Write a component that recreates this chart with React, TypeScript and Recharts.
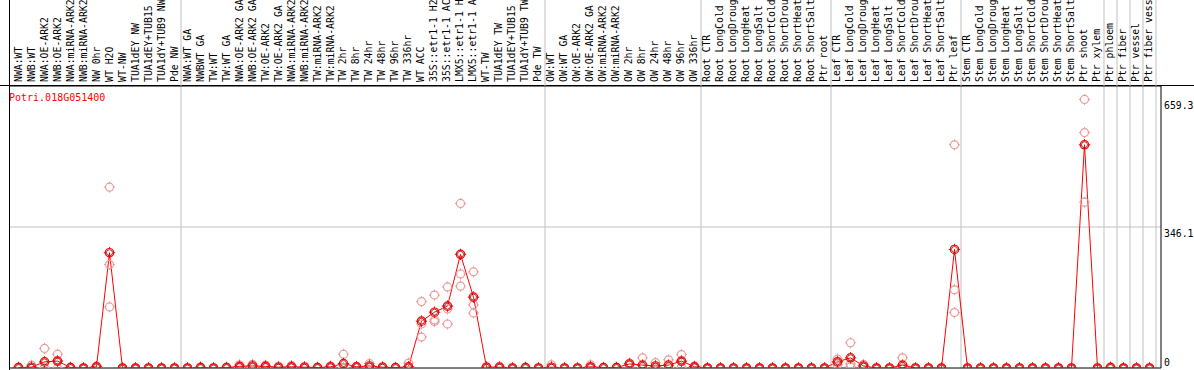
import React from 'react';
import { ComposedChart, Line, XAxis, YAxis, ReferenceLine } from 'recharts';

const geneId = 'Potri.018G051400';

const categories = [
  'NWA:WT', 'NWB:WT', 'NWA:OE-ARK2', 'NWB:OE-ARK2', 'NWA:miRNA-ARK2', 'NWB:miRNA-ARK2', 'NW 0hr', 'WT H2O', 'WT-NW',
  'TUA1dEY NW', 'TUA1dEY+TUB15', 'TUA1dY+TUB9 NW', 'Pde NW',
  'NWA:WT GA', 'NWBWT GA', 'TW:WT', 'TW:WT GA', 'NWA:OE-ARK2 GA', 'NWB:OE-ARK2 GA', 'TW:OE-ARK2', 'TW:OE-ARK2 GA',
  'NWA:miRNA-ARK2', 'NWB:miRNA-ARK2', 'TW:miRNA-ARK2', 'TW:miRNA-ARK2', 'TW 2hr', 'TW 8hr', 'TW 24hr', 'TW 48hr',
  'TW 96hr', 'TW 336hr', 'WT ACC', '35S::etr1-1 H2', '35S::etr1-1 AC', 'LMX5::etr1-1 H', 'LMX5::etr1-1 A', 'WT-TW',
  'TUA1dEY TW', 'TUA1dEY+TUB15', 'TUA1dY+TUB9 TW', 'Pde TW',
  'OW:WT', 'OW:WT GA', 'OW:OE-ARK2', 'OW:OE-ARK2 GA', 'OW:miRNA-ARK2', 'OW:miRNA-ARK2', 'OW 2hr', 'OW 8hr', 'OW 24hr',
  'OW 48hr', 'OW 96hr', 'OW 336hr',
  'Root CTR', 'Root LongCold', 'Root LongDroug', 'Root LongHeat', 'Root LongSalt', 'Root ShortCold', 'Root ShortDrou',
  'Root ShortHeat', 'Root ShortSalt', 'Ptr root',
  'Leaf CTR', 'Leaf LongCold', 'Leaf LongDroug', 'Leaf LongHeat', 'Leaf LongSalt', 'Leaf ShortCold', 'Leaf ShortDrou',
  'Leaf ShortHeat', 'Leaf ShortSalt', 'Ptr leaf',
  'Stem CTR', 'Stem LongCold', 'Stem LongDroug', 'Stem LongHeat', 'Stem LongSalt', 'Stem ShortCold', 'Stem ShortDrou',
  'Stem ShortHeat', 'Stem ShortSalt', 'Ptr shoot', 'Ptr xylem',
  'Ptr phloem', 'Ptr fiber', 'Ptr vessel', 'Ptr fiber vess',
];

// last index of each sample group (a grey separator follows it)
const groupEnds = [12, 40, 52, 62, 72, 83, 84, 85, 86, 87];

const meanValues = [
  1, 2, 15, 17, 1, 0, 3, 283, 0, 0, 0, 0, 0,
  0, 1, 0, 1, 4, 5, 4, 2, 3, 2, 1, 3, 11, 3, 5, 2, 1, 3, 115, 137, 152, 279, 174, 2, 2, 0, 1, 0,
  2, 0, 0, 3, 1, 1, 10, 7, 5, 7, 17, 3,
  0, 0, 0, 0, 0, 0, 0, 0, 0, 0,
  15, 25, 5, 0, 0, 7, 0, 0, 0, 291,
  0, 0, 0, 0, 0, 0, 0, 0, 0, 548, 0,
  1, 0, 0, 0,
];

const rep1 = [
  0, 7, 48, 34, 0, 0, 5, 444, 0, 0, 0, 0, 0,
  0, 3, 0, 2, 8, 9, 7, 4, 6, 4, 2, 5, 34, 4, 11, 3, 1, 12, 163, 179, 199, 404, 236, 3, 4, 0, 2, 0,
  8, 0, 0, 8, 1, 2, 12, 25, 13, 20, 33, 5,
  0, 0, 0, 0, 0, 0, 0, 0, 0, 0,
  22, 62, 9, 0, 0, 25, 0, 0, 0, 548,
  0, 0, 0, 0, 0, 0, 0, 0, 0, 659.3, 0,
  3, 0, 0, 0,
];

const rep2 = [
  1, 0, 0, 17, 2, 0, 3, 254, 0, 0, 0, 0, 0,
  0, 0, 0, 1, 3, 5, 4, 1, 2, 1, 1, 3, 1, 3, 3, 2, 1, 0, 108, 118, 145, 231, 155, 2, 1, 0, 1, 0,
  0, 0, 0, 1, 1, 1, 10, 0, 2, 1, 16, 3,
  0, 0, 0, 0, 0, 0, 0, 0, 0, 0,
  15, 10, 4, 0, 0, 0, 0, 0, 0, 192,
  0, 0, 0, 0, 0, 0, 0, 0, 0, 578, 0,
  0, 0, 0, 0,
];

const rep3 = [
  2, 0, 0, 0, 1, 0, 1, 150, 0, 0, 0, 0, 0,
  0, 0, 0, 0, 1, 1, 1, 1, 1, 1, 0, 1, 0, 2, 1, 1, 1, 0, 76, 114, 108, 201, 135, 1, 1, 0, 0, 0,
  0, 0, 0, 0, 1, 0, 8, 0, 0, 0, 2, 1,
  0, 0, 0, 0, 0, 0, 0, 0, 0, 0,
  8, 3, 2, 0, 0, 0, 0, 0, 0, 136,
  0, 0, 0, 0, 0, 0, 0, 0, 0, 407, 0,
  0, 0, 0, 0,
];

const yTicks = [0, 346.1, 659.3];

const data = categories.map((name, i) => ({
  i,
  name,
  mean: meanValues[i],
  r1: rep1[i],
  r2: rep2[i],
  r3: rep3[i],
}));

const WIDTH = 1194;
const HEIGHT = 370;
const LEFT = 10;
const HEADER = 86;
const FONT = '"DejaVu Sans Mono", "Liberation Mono", monospace';

const HeaderTick = (props: any) => {
  const { x, payload } = props;
  const i = payload.value as number;
  return (
    <g>
      {i === 0 && (
        <g>
          <line x1={0} x2={WIDTH} y1={HEADER - 0.5} y2={HEADER - 0.5} stroke="#000" />
          <line x1={LEFT - 0.5} x2={LEFT - 0.5} y1={0} y2={HEIGHT} stroke="#000" />
          <text x={9} y={101} fontSize={10} fontFamily={FONT} fill="#ff0000">
            {geneId}
          </text>
        </g>
      )}
      <text
        transform={`translate(${x + 3},82) rotate(-90)`}
        fontSize={9.8}
        fontFamily={FONT}
        fill="#000"
      >
        {categories[i]}
      </text>
      {groupEnds.includes(i) && (
        <line x1={x + 6.5} x2={x + 6.5} y1={0} y2={HEADER} stroke="#c0c0c0" />
      )}
    </g>
  );
};

const RightTick = (props: any) => {
  const { x, y, payload } = props;
  const dy = payload.value === 0 ? -6 : 6;
  return (
    <text x={x} y={y + dy} fontSize={9.8} fontFamily={FONT} fill="#000" dominantBaseline="central">
      {payload.value}
    </text>
  );
};

const ring = (cx: number, cy: number, color: string, r: number) => (
  <g>
    <circle cx={cx} cy={cy} r={r} fill="none" stroke={color} strokeWidth={1.2} />
    <line x1={cx} x2={cx} y1={cy - r - 1.5} y2={cy - r + 0.5} stroke={color} />
    <line x1={cx} x2={cx} y1={cy + r - 0.5} y2={cy + r + 1.5} stroke={color} />
    <line x1={cx - r - 1.5} x2={cx - r + 0.5} y1={cy} y2={cy} stroke={color} />
    <line x1={cx + r - 0.5} x2={cx + r + 1.5} y1={cy} y2={cy} stroke={color} />
  </g>
);

const repDot = (p: any) => {
  if (p.cx == null || p.cy == null) return <g key={p.index} />;
  return <g key={p.index}>{ring(p.cx, p.cy, '#ee9a9a', 4)}</g>;
};

const meanDot = (p: any) => {
  if (p.cx == null || p.cy == null) return <g key={p.index} />;
  return (
    <g key={p.index}>
      {ring(p.cx, p.cy, '#ff0000', 4.2)}
      <circle cx={p.cx} cy={p.cy} r={3} fill="none" stroke="#800000" strokeWidth={0.8} />
    </g>
  );
};

export default function App() {
  return (
    <div style={{ position: 'absolute', left: 0, top: 0, background: '#fff' }}>
      <ComposedChart
        width={WIDTH}
        height={HEIGHT}
        data={data}
        margin={{ top: 0, right: 0, bottom: 2, left: LEFT }}
      >
        <XAxis
          dataKey="i"
          type="number"
          orientation="top"
          domain={[-0.654, 87.885]}
          ticks={categories.map((_, i) => i)}
          interval={0}
          height={HEADER}
          axisLine={{ stroke: '#000' }}
          tickLine={false}
          tick={<HeaderTick />}
          allowDataOverflow
        />
        <YAxis
          orientation="right"
          width={33}
          domain={[0, 692.3]}
          ticks={yTicks}
          interval={0}
          axisLine={{ stroke: '#000' }}
          tickLine={false}
          tickSize={0}
          tickMargin={3}
          tick={<RightTick />}
          allowDataOverflow
        />
        {groupEnds.map((g) => (
          <ReferenceLine key={g} x={g + 0.5} stroke="#c0c0c0" />
        ))}
        <ReferenceLine y={346.1} stroke="#c0c0c0" />
        <ReferenceLine y={0} stroke="#000" />
        <Line dataKey="r1" stroke="none" dot={repDot} activeDot={false} isAnimationActive={false} />
        <Line dataKey="r2" stroke="none" dot={repDot} activeDot={false} isAnimationActive={false} />
        <Line dataKey="r3" stroke="none" dot={repDot} activeDot={false} isAnimationActive={false} />
        <Line
          dataKey="mean"
          stroke="#ff0000"
          strokeWidth={1}
          dot={meanDot}
          activeDot={false}
          isAnimationActive={false}
        />
      </ComposedChart>
    </div>
  );
}
